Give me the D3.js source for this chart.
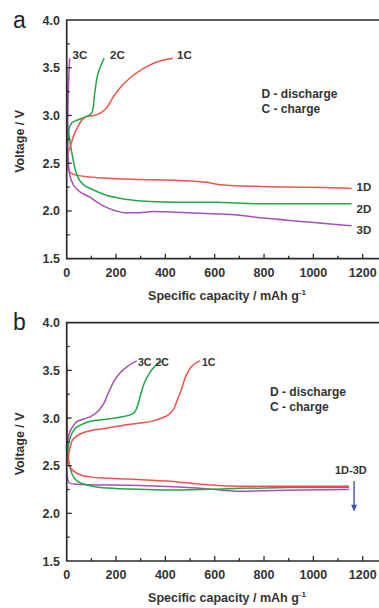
<!DOCTYPE html>
<html>
<head>
<meta charset="utf-8">
<script src="https://cdn.jsdelivr.net/npm/d3@7"></script>
<style>
  body { margin: 0; background: #fff; }
  svg { display: block; font-family: "Liberation Sans", Arial, sans-serif; }
</style>
</head>
<body>
<div class="chart"></div>
<script>
// values: [capacity mAh/g, voltage V]
const xTicks = [0, 200, 400, 600, 800, 1000, 1200];
const yTicks = [1.5, 2.0, 2.5, 3.0, 3.5, 4.0];

// panel a
const a1C = [[0,2.58],[10,2.64],[27,2.78],[45,2.88],[61,2.95],[81,2.99],[110,3.0],[140,3.03],[165,3.09],[190,3.2],[220,3.3],[260,3.4],[310,3.49],[360,3.555],[430,3.6]];
const a2C = [[0,2.6],[5,2.75],[10,2.86],[20,2.92],[41,2.95],[81,2.99],[100,3.02],[108,3.09],[112,3.2],[117,3.3],[125,3.42],[135,3.5],[152,3.6]];
const a3C = [[0,2.45],[3,2.8],[6,3.2],[9,3.45],[12,3.6]];
const a1D = [[0,2.62],[4,2.45],[15,2.40],[50,2.37],[150,2.345],[300,2.33],[450,2.32],[570,2.30],[620,2.275],[750,2.26],[900,2.25],[1050,2.245],[1155,2.235]];
const a2D = [[0,2.95],[8,2.82],[15,2.70],[25,2.55],[35,2.43],[50,2.33],[70,2.27],[100,2.23],[155,2.17],[220,2.13],[300,2.105],[400,2.095],[600,2.09],[800,2.075],[1000,2.075],[1155,2.075]];
const a3D = [[0,3.5],[3,3.0],[6,2.55],[10,2.42],[20,2.31],[45,2.22],[90,2.15],[150,2.05],[200,2.0],[240,1.98],[280,1.98],[350,1.995],[420,1.99],[540,1.975],[680,1.96],[800,1.925],[950,1.89],[1080,1.86],[1155,1.845]];

// panel b
const b1C = [[0,2.5],[8,2.62],[20,2.75],[40,2.81],[61,2.84],[100,2.87],[155,2.89],[220,2.92],[290,2.945],[350,2.97],[385,3.0],[415,3.04],[435,3.1],[450,3.2],[465,3.3],[480,3.42],[500,3.52],[540,3.6]];
const b2C = [[0,2.55],[6,2.7],[15,2.8],[34,2.89],[60,2.93],[88,2.96],[150,2.985],[220,3.01],[265,3.04],[280,3.08],[290,3.15],[300,3.25],[315,3.37],[335,3.47],[360,3.55],[392,3.6]];
const b3C = [[0,2.55],[5,2.75],[12,2.85],[25,2.91],[40,2.96],[70,2.99],[100,3.02],[130,3.08],[150,3.15],[170,3.27],[190,3.38],[215,3.47],[245,3.54],[284,3.6]];
const b1D = [[0,3.55],[2,3.0],[5,2.6],[13,2.49],[30,2.44],[60,2.40],[100,2.38],[155,2.37],[250,2.36],[360,2.345],[450,2.33],[520,2.31],[600,2.295],[700,2.285],[900,2.285],[1145,2.285]];
const b2D = [[0,2.8],[8,2.55],[15,2.47],[22,2.41],[47,2.33],[80,2.30],[115,2.28],[200,2.26],[290,2.253],[430,2.245],[550,2.25],[700,2.262],[900,2.27],[1145,2.275]];
const b3D = [[0,2.45],[4,2.36],[10,2.32],[40,2.305],[100,2.30],[223,2.295],[330,2.29],[430,2.28],[530,2.265],[620,2.245],[700,2.232],[800,2.238],[950,2.245],[1145,2.25]];

const RED = "#f4514b", GREEN = "#1ea84a", PURPLE = "#a452b4", INK = "#2b2b2b";

const W = 379, H = 608;
const svg = d3.select(".chart").append("svg").attr("width", W).attr("height", H);

function drawPanel(top, bottom, letter, series, labels) {
  const x = d3.scaleLinear().domain([0, 1200]).range([66.7, 362.7]);
  const y = d3.scaleLinear().domain([1.5, 4.0]).range([bottom, top]);
  const g = svg.append("g");

  const line = d3.line()
    .x(d => x(d[0]))
    .y(d => y(d[1]))
    .curve(d3.curveMonotoneX);

  series.forEach(s => {
    g.append("path")
      .attr("d", line(s.data))
      .attr("fill", "none")
      .attr("stroke", s.color)
      .attr("stroke-width", 1.5);
  });

  // frame (right side cropped in the original)
  g.append("path")
    .attr("d", `M${W},${top}H${x(0)}V${bottom}H${W}`)
    .attr("fill", "none")
    .attr("stroke", INK)
    .attr("stroke-width", 1.7);

  // inward ticks
  const xMinor = d3.range(100, 1300, 200);
  g.selectAll(".xt").data(xTicks.slice(1)).enter().append("line")
    .attr("x1", d => x(d)).attr("x2", d => x(d))
    .attr("y1", bottom).attr("y2", bottom - 5)
    .attr("stroke", INK).attr("stroke-width", 1.3);
  g.selectAll(".xm").data(xMinor).enter().append("line")
    .attr("x1", d => x(d)).attr("x2", d => x(d))
    .attr("y1", bottom).attr("y2", bottom - 3)
    .attr("stroke", INK).attr("stroke-width", 1.3);
  const yMinor = d3.range(1.75, 4.0, 0.5);
  g.selectAll(".yt").data(yTicks.slice(1, -1)).enter().append("line")
    .attr("x1", x(0)).attr("x2", x(0) + 5)
    .attr("y1", d => y(d)).attr("y2", d => y(d))
    .attr("stroke", INK).attr("stroke-width", 1.3);
  g.selectAll(".ym").data(yMinor).enter().append("line")
    .attr("x1", x(0)).attr("x2", x(0) + 3)
    .attr("y1", d => y(d)).attr("y2", d => y(d))
    .attr("stroke", INK).attr("stroke-width", 1.3);

  // tick labels
  g.selectAll(".xl").data(xTicks).enter().append("text")
    .attr("x", d => x(d)).attr("y", bottom + 18)
    .attr("text-anchor", "middle")
    .style("font-size", "12.5px").style("font-weight", "bold").style("fill", "#333")
    .text(d => d);
  g.selectAll(".yl").data(yTicks).enter().append("text")
    .attr("x", 60).attr("y", d => y(d) + 4.5)
    .attr("text-anchor", "end")
    .style("font-size", "12.5px").style("font-weight", "bold").style("fill", "#333")
    .text(d => d.toFixed(1));

  // axis titles
  const xt = g.append("text")
    .attr("x", 227).attr("y", bottom + 41)
    .attr("text-anchor", "middle")
    .style("font-size", "12.5px").style("font-weight", "bold").style("fill", "#333")
    .text("Specific capacity / mAh g");
  xt.append("tspan").attr("dy", -5).style("font-size", "8px").text("-1");
  g.append("text")
    .attr("transform", `translate(24,${(top + bottom) / 2 + 2}) rotate(-90)`)
    .attr("text-anchor", "middle")
    .style("font-size", "12.5px").style("font-weight", "bold").style("fill", "#333")
    .text("Voltage / V");

  g.append("text")
    .attr("x", 13).attr("y", top + 7.5)
    .style("font-size", "23px").style("fill", "#222")
    .text(letter);

  // curve labels and note
  g.selectAll(".cl").data(labels).enter().append("text")
    .attr("x", d => d.x).attr("y", d => d.y)
    .style("font-size", d => (d.s || 11.5) + "px").style("font-weight", "bold").style("fill", "#333")
    .text(d => d.t);

  return { x, y, g };
}

const pa = drawPanel(20, 258.7, "a",
  [
    { data: a1D, color: RED }, { data: a2D, color: GREEN }, { data: a3D, color: PURPLE },
    { data: a1C, color: RED }, { data: a2C, color: GREEN }, { data: a3C, color: PURPLE }
  ],
  [
    { t: "3C", x: 72.5, y: 59 }, { t: "2C", x: 110, y: 59 }, { t: "1C", x: 177, y: 59 },
    { t: "D - discharge", x: 261.5, y: 98, s: 12 }, { t: "C - charge", x: 261.5, y: 113, s: 12 },
    { t: "1D", x: 356.5, y: 191 }, { t: "2D", x: 356.5, y: 212.5 }, { t: "3D", x: 356.5, y: 233.5 }
  ]);

const pb = drawPanel(322.7, 561, "b",
  [
    { data: b3D, color: PURPLE }, { data: b2D, color: GREEN }, { data: b1D, color: RED },
    { data: b3C, color: PURPLE }, { data: b2C, color: GREEN }, { data: b1C, color: RED }
  ],
  [
    { t: "3C", x: 138, y: 366, s: 10.5 }, { t: "2C", x: 155.5, y: 366, s: 10.5 }, { t: "1C", x: 202, y: 366, s: 10.5 },
    { t: "D - discharge", x: 270, y: 396, s: 12 }, { t: "C - charge", x: 270, y: 411, s: 12 },
    { t: "1D-3D", x: 335, y: 474, s: 11 }
  ]);

// arrow under 1D-3D
const ax = pb.x(1165);
pb.g.append("line")
  .attr("x1", ax).attr("x2", ax)
  .attr("y1", pb.y(2.34)).attr("y2", pb.y(2.07))
  .attr("stroke", "#3d4fb5").attr("stroke-width", 1.4);
pb.g.append("path")
  .attr("d", d3.line()([[ax - 3, pb.y(2.09)], [ax + 3, pb.y(2.09)], [ax, pb.y(2.02)]]) + "Z")
  .attr("fill", "#3d4fb5");
</script>
</body>
</html>
